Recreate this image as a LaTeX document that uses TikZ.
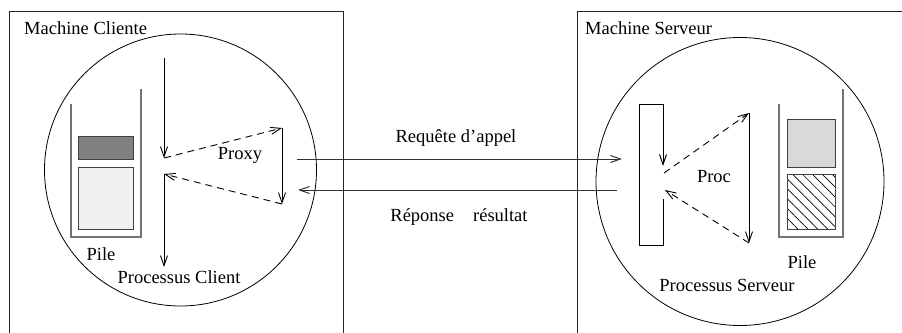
\documentclass[tikz,border=0pt]{standalone}
\usepackage{fontspec}
\setmainfont{Liberation Serif}
\usetikzlibrary{arrows.meta,patterns.meta}

\tikzset{
  frame/.style={line width=1pt, draw=black!85},
  proc/.style={line width=0.8pt, draw=black},
  flow/.style={line width=0.9pt, -{Straight Barb[length=10pt,width=7pt]}},
  call/.style={flow, dash pattern=on 7pt off 5pt},
  wire/.style={line width=1pt, draw=black!80},
  stackwall/.style={line width=1.4pt, draw=black!55},
  cell/.style={line width=0.8pt, draw=black!75},
  lbl/.style={inner sep=0pt, font=\fontsize{18.5}{21}\selectfont}
}

\begin{document}
\begin{tikzpicture}[x=1pt, y=-1pt]
  \useasboundingbox (0,0) rectangle (902,332);

  % ---------- machines ----------
  \draw[frame] (9,345) -- (9,11) -- (343,11) -- (343,345);
  \draw[frame] (577,345) -- (577,11) -- (910,11);
  \node[lbl, anchor=base west] (mc) at (24,34) {Machine Cliente};
  \node[lbl, anchor=base west] (ms) at (585,34) {Machine Serveur};

  % ---------- processes ----------
  \draw[proc] (180.5,170) circle[radius=136];
  \draw[proc] (740,181.5) circle[radius=144];

  % ---------- client stack ----------
  \draw[stackwall] (71,104) -- (71,237) -- (141,237) -- (141,89);
  \draw[cell, fill=black!50] (78,136) rectangle (133,159);
  \draw[cell, fill=black!6] (78,167) rectangle (133,229);
  \node[lbl, anchor=base] (pc) at (101,260) {Pile};
  \node[lbl, anchor=base] (pclient) at (179,283) {Processus Client};

  % ---------- client thread and proxy ----------
  \coordinate (ctop) at (164,58);
  \coordinate (cout) at (164,158);
  \coordinate (cin) at (164,174);
  \coordinate (cbot) at (164,267);
  \coordinate (pxtop) at (282,128);
  \coordinate (pxbot) at (282,204);
  \draw[flow] (ctop) -- (cout);
  \draw[flow] (cin) -- (cbot);
  \draw[call] (cout) -- (pxtop);
  \draw[flow] (pxtop) -- (pxbot);
  \draw[call] (pxbot) -- (cin);
  \node[lbl, anchor=base] (proxy) at (240,159) {Proxy};

  % ---------- network messages ----------
  \coordinate (reqa) at (297,159);
  \coordinate (reqb) at (622,159);
  \coordinate (repa) at (617,190);
  \coordinate (repb) at (298,190);
  \draw[flow, wire] (reqa) -- (reqb);
  \draw[flow, wire] (repa) -- (repb);
  \node[lbl, anchor=base] (req) at (456,142) {Requête d’appel};
  \node[lbl, anchor=base] (rep) at (459,221) {Réponse\hspace{19pt}résultat};

  % ---------- server skeleton and procedure ----------
  \coordinate (sktop) at (663,104);
  \coordinate (skin) at (663,166);
  \coordinate (skout) at (663,199);
  \coordinate (skcall) at (664,173);
  \coordinate (skret) at (665,190);
  \coordinate (prtop) at (749,113);
  \coordinate (prbot) at (749,243);
  \draw[line width=1pt] (skout) -- (663,245) -- (639,245) -- (639,104) -- (sktop);
  \draw[flow, line width=1pt] (sktop) -- (skin);
  \draw[call] (skcall) -- (prtop);
  \draw[flow] (prtop) -- (prbot);
  \draw[call] (prbot) -- (skret);
  \node[lbl, anchor=base] (proc) at (714,182) {Proc};

  % ---------- server stack ----------
  \draw[stackwall] (779,104) -- (779,237) -- (843,237) -- (843,89);
  \draw[cell, fill=black!15] (787,119) rectangle (835,167);
  \fill[pattern={Lines[angle=-45,distance=7pt,line width=0.7pt]}] (787,174) rectangle (835,229);
  \draw[cell] (787,174) rectangle (835,229);
  \node[lbl, anchor=base] (ps) at (802,268) {Pile};
  \node[lbl, anchor=base] (pserv) at (727,291) {Processus Serveur};
\end{tikzpicture}
\end{document}
